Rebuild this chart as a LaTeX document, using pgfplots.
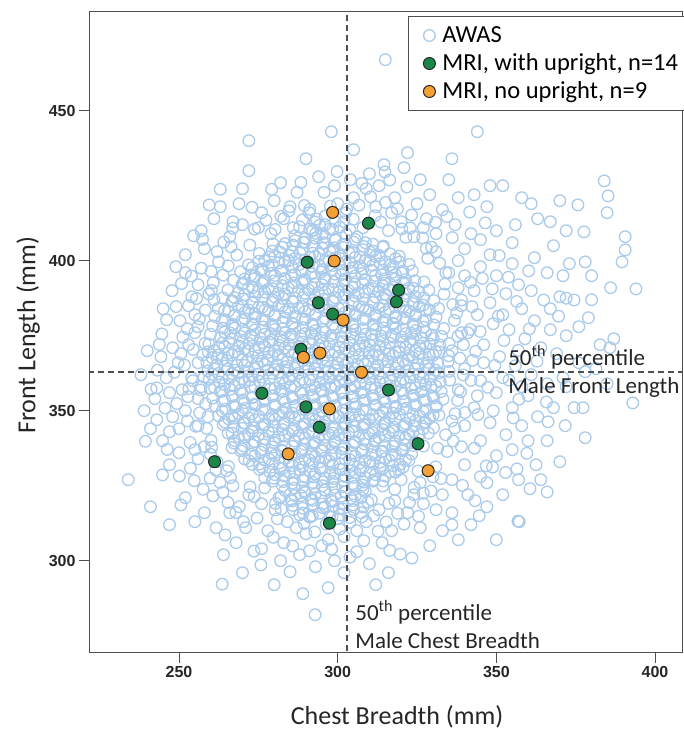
\documentclass[border=0pt]{standalone}
\usepackage{pgfplots}
\pgfplotsset{compat=1.18}
\usepackage{fontspec}
\setmainfont{Carlito}
\newfontfamily\arialfont{Liberation Sans}
\definecolor{awas}{RGB}{170,203,235}
\definecolor{mrigreen}{RGB}{26,135,72}
\definecolor{mriorange}{RGB}{245,160,50}
\definecolor{axgray}{RGB}{80,80,80}
\begin{document}
\begin{tikzpicture}
\useasboundingbox (-90pt,-79pt) rectangle (593pt,652pt);
\begin{axis}[
  scale only axis, width=592pt, height=640pt,
  xmin=221.95, xmax=408.5, ymin=269.57, ymax=482.9,
  xtick={250,300,350,400}, ytick={300,350,400,450},
  xtick pos=bottom, ytick pos=left,
  tick align=outside, major tick length=11pt,
  tick style={axgray, line width=1pt},
  axis line style={axgray, line width=1pt},
  /pgf/number format/assume math mode=true,
  tick label style={font=\arialfont\bfseries\fontsize{16}{18}\selectfont, text=black!85},
  xlabel={Chest Breadth (mm)}, ylabel={Front Length (mm)},
  label style={font=\fontsize{26}{30}\selectfont, text=black!85},
  xlabel style={at={(axis description cs:0.5186,-0.1016)}, anchor=center},
  ylabel style={at={(axis description cs:-0.1047,0.495)}, anchor=center},
  clip mode=individual,
  legend style={at={(axis description cs:0.537,0.99375)}, anchor=north west,
    draw=axgray, line width=1pt, fill=white, inner xsep=8pt, inner ysep=5pt,
    row sep=0pt, font=\fontsize{24.5}{28}\selectfont,
    nodes={text height=19pt, text depth=5pt, inner sep=2pt}},
  legend cell align=left,
  legend image code/.code={\path[draw=none] (0pt,0pt) -- (24pt,0pt); \draw[#1] plot coordinates {(13pt,0pt)};},
]
\addplot[only marks, mark=o, mark size=5.8pt, mark options={draw=awas, line width=1.3pt}] coordinates {
(286.5,408.3)(289.8,407.4)(293.1,409.1)(296.0,408.0)(299.4,407.2)(302.7,408.8)(306.1,407.9)
(279.6,405.6)(282.5,404.5)(285.9,405.2)(289.2,406.1)(292.0,404.8)(295.4,405.9)(298.7,404.3)(301.6,405.4)(305.0,406.2)(308.3,404.7)(311.1,405.5)(314.4,404.9)
(275.3,402.4)(278.4,401.3)(281.8,402.9)(284.7,401.8)(288.1,402.6)(291.3,401.1)(294.2,402.2)(297.6,403.0)(300.8,401.6)(303.7,402.5)(307.0,401.2)(310.3,402.8)(313.2,401.7)(316.5,402.3)(319.4,401.5)
(271.9,398.6)(275.1,399.8)(278.2,398.2)(281.5,399.3)(284.6,400.0)(287.8,398.7)(290.9,399.5)(294.3,398.1)(297.3,399.9)(300.6,398.9)(303.8,399.4)(306.9,398.3)(310.1,400.1)(313.4,399.0)(316.4,398.5)(319.6,399.6)(322.5,398.8)
(269.4,396.3)(272.6,395.2)(275.8,396.9)(278.9,395.8)(282.1,396.5)(285.4,395.1)(288.5,396.7)(291.7,395.6)(294.8,396.2)(298.1,397.0)(301.2,395.4)(304.4,396.4)(307.6,395.7)(310.7,396.8)(313.9,395.3)(317.1,396.1)(320.2,395.9)(323.5,396.6)
(267.2,393.5)(270.3,392.4)(273.6,393.9)(276.7,392.8)(279.9,393.2)(283.1,394.0)(286.2,392.6)(289.4,393.6)(292.6,392.3)(295.8,393.8)(298.9,392.9)(302.1,393.4)(305.3,392.2)(308.5,393.7)(311.6,393.1)(314.8,392.5)(318.0,393.9)(321.1,392.7)(324.3,393.3)(327.2,392.9)
(265.4,390.2)(268.6,389.3)(271.8,390.8)(274.9,389.7)(278.1,390.5)(281.3,389.1)(284.4,390.9)(287.6,389.8)(290.8,390.3)(293.9,389.4)(297.1,390.7)(300.3,389.6)(303.4,390.1)(306.6,389.2)(309.8,390.6)(312.9,389.9)(316.1,390.4)(319.3,389.5)(322.4,390.8)(325.6,389.7)(328.7,390.2)
(263.8,387.6)(267.0,386.5)(270.1,387.2)(273.3,386.1)(276.5,387.9)(279.6,386.8)(282.8,387.4)(286.0,386.3)(289.1,387.7)(292.3,386.9)(295.5,387.1)(298.6,386.4)(301.8,387.8)(305.0,386.6)(308.1,387.3)(311.3,386.2)(314.5,387.5)(317.6,386.9)(320.8,387.0)(324.0,386.4)(327.1,387.6)(330.3,386.7)
(262.4,384.1)(265.6,383.2)(268.7,384.7)(271.9,383.6)(275.1,384.4)(278.2,383.1)(281.4,384.9)(284.6,383.8)(287.7,384.2)(290.9,383.4)(294.1,384.6)(297.2,383.7)(300.4,384.0)(303.6,383.3)(306.7,384.8)(309.9,383.5)(313.1,384.3)(316.2,383.9)(319.4,384.5)(322.6,383.2)(325.7,384.7)(328.9,383.6)(331.8,384.1)
(261.3,381.4)(264.5,380.3)(267.6,381.8)(270.8,380.7)(274.0,381.2)(277.1,380.1)(280.3,381.6)(283.5,380.9)(286.6,381.3)(289.8,380.5)(293.0,381.9)(296.1,380.8)(299.3,381.1)(302.5,380.4)(305.6,381.7)(308.8,380.6)(312.0,381.5)(315.1,380.2)(318.3,381.0)(321.5,380.8)(324.6,381.6)(327.8,380.3)(331.0,381.2)
(260.6,378.3)(263.8,377.5)(266.9,378.8)(270.1,377.2)(273.3,378.6)(276.4,377.9)(279.6,378.1)(282.8,377.4)(285.9,378.9)(289.1,377.7)(292.3,378.4)(295.4,377.1)(298.6,378.7)(301.8,377.8)(304.9,378.2)(308.1,377.3)(311.3,378.5)(314.4,377.6)(317.6,378.9)(320.8,377.2)(323.9,378.3)(327.1,377.8)(330.3,378.6)(333.4,377.4)
(259.9,375.5)(263.1,374.4)(266.2,375.9)(269.4,374.8)(272.6,375.2)(275.7,374.1)(278.9,375.7)(282.1,374.6)(285.2,375.3)(288.4,374.9)(291.6,375.8)(294.7,374.3)(297.9,375.1)(301.1,374.7)(304.2,375.6)(307.4,374.2)(310.6,375.4)(313.7,374.9)(316.9,375.0)(320.1,374.5)(323.2,375.8)(326.4,374.3)(329.6,375.2)(332.7,374.8)
(259.4,372.2)(262.6,371.3)(265.7,372.8)(268.9,371.6)(272.1,372.4)(275.2,371.1)(278.4,372.9)(281.6,371.8)(284.7,372.1)(287.9,371.4)(291.1,372.6)(294.2,371.9)(297.4,372.3)(300.6,371.2)(303.7,372.7)(306.9,371.5)(310.1,372.0)(313.2,371.7)(316.4,372.5)(319.6,371.3)(322.7,372.8)(325.9,371.6)(329.1,372.2)(332.2,371.9)(335.1,372.4)
(259.2,369.6)(262.3,368.5)(265.5,369.2)(268.7,368.8)(271.8,369.9)(275.0,368.3)(278.2,369.4)(281.3,368.7)(284.5,369.7)(287.7,368.4)(290.8,369.1)(294.0,368.9)(297.2,369.5)(300.3,368.2)(303.5,369.8)(306.7,368.6)(309.8,369.3)(313.0,368.5)(316.2,369.0)(319.3,369.7)(322.5,368.4)(325.7,369.2)(328.8,368.8)(332.0,369.6)(335.0,368.3)
(258.8,366.1)(262.0,365.4)(265.1,366.7)(268.3,365.2)(271.5,366.4)(274.6,365.8)(277.8,366.9)(281.0,365.3)(284.1,366.2)(287.3,365.6)(290.5,366.8)(293.6,365.1)(296.8,366.5)(300.0,365.9)(303.1,366.0)(306.3,365.5)(309.5,366.6)(312.6,365.2)(315.8,366.3)(319.0,365.7)(322.1,366.9)(325.3,365.4)(328.5,366.1)(331.6,365.8)(334.8,366.4)
(259.1,363.3)(262.4,362.4)(265.4,363.8)(268.6,362.7)(271.9,363.1)(274.9,362.2)(278.1,363.6)(281.4,362.9)(284.4,363.4)(287.6,362.5)(290.9,363.9)(293.9,362.6)(297.1,363.2)(300.4,362.1)(303.4,363.7)(306.6,362.8)(309.9,363.0)(312.9,362.4)(316.1,363.5)(319.4,362.9)(322.4,363.3)(325.6,362.2)(328.9,363.8)(331.9,362.6)(335.1,363.1)
(259.5,360.4)(262.7,359.6)(265.8,360.9)(269.0,359.3)(272.2,360.2)(275.3,359.8)(278.5,360.7)(281.7,359.1)(284.8,360.5)(288.0,359.9)(291.2,360.1)(294.3,359.4)(297.5,360.8)(300.7,359.7)(303.8,360.3)(307.0,359.2)(310.2,360.6)(313.3,359.5)(316.5,360.0)(319.7,359.8)(322.8,360.9)(326.0,359.3)(329.2,360.4)(332.3,359.6)(335.3,360.2)
(259.8,357.5)(263.0,356.4)(266.1,357.1)(269.3,356.8)(272.5,357.9)(275.6,356.3)(278.8,357.4)(282.0,356.7)(285.1,357.8)(288.3,356.2)(291.5,357.0)(294.6,356.9)(297.8,357.6)(301.0,356.5)(304.1,357.3)(307.3,356.1)(310.5,357.7)(313.6,356.6)(316.8,357.2)(320.0,356.9)(323.1,357.5)(326.3,356.3)(329.5,357.8)(332.6,356.4)
(260.6,354.2)(263.7,353.3)(266.9,354.7)(270.1,353.6)(273.2,354.4)(276.4,353.1)(279.6,354.9)(282.7,353.8)(285.9,354.0)(289.1,353.5)(292.2,354.6)(295.4,353.2)(298.6,354.3)(301.7,353.9)(304.9,354.8)(308.1,353.4)(311.2,354.1)(314.4,353.7)(317.6,354.5)(320.7,353.2)(323.9,354.9)(327.1,353.6)(330.2,354.3)(333.2,353.8)
(261.4,351.6)(264.6,350.5)(267.7,351.2)(270.9,350.8)(274.1,351.9)(277.2,350.3)(280.4,351.4)(283.6,350.7)(286.7,351.7)(289.9,350.2)(293.1,351.0)(296.2,350.9)(299.4,351.5)(302.6,350.4)(305.7,351.3)(308.9,350.1)(312.1,351.8)(315.2,350.6)(318.4,351.1)(321.6,350.8)(324.7,351.6)(327.9,350.3)(331.1,351.3)
(262.5,348.3)(265.7,347.2)(268.8,348.8)(272.0,347.6)(275.2,348.1)(278.3,347.4)(281.5,348.6)(284.7,347.9)(287.8,348.2)(291.0,347.3)(294.2,348.7)(297.3,347.5)(300.5,348.0)(303.7,347.8)(306.8,348.5)(310.0,347.1)(313.2,348.4)(316.3,347.7)(319.5,348.9)(322.7,347.3)(325.8,348.2)(329.0,347.6)(331.9,348.5)
(263.9,345.4)(267.1,344.6)(270.2,345.9)(273.4,344.3)(276.6,345.2)(279.7,344.8)(282.9,345.7)(286.1,344.1)(289.2,345.5)(292.4,344.9)(295.6,345.1)(298.7,344.4)(301.9,345.8)(305.1,344.7)(308.2,345.3)(311.4,344.2)(314.6,345.6)(317.7,344.5)(320.9,345.0)(324.1,344.8)(327.2,345.9)(330.2,344.3)
(265.5,342.5)(268.7,341.4)(271.9,342.1)(275.0,341.8)(278.2,342.9)(281.4,341.3)(284.5,342.4)(287.7,341.7)(290.9,342.8)(294.0,341.2)(297.2,342.0)(300.4,341.9)(303.5,342.6)(306.7,341.5)(309.9,342.3)(313.0,341.1)(316.2,342.7)(319.4,341.6)(322.5,342.2)(325.7,341.9)(328.6,342.5)
(267.3,339.2)(270.4,338.3)(273.6,339.7)(276.8,338.6)(279.9,339.4)(283.1,338.1)(286.3,339.9)(289.4,338.8)(292.6,339.0)(295.8,338.5)(298.9,339.6)(302.1,338.2)(305.3,339.3)(308.4,338.9)(311.6,339.8)(314.8,338.4)(317.9,339.1)(321.1,338.7)(324.3,339.5)(327.0,338.2)
(269.5,336.6)(272.7,335.5)(275.8,336.2)(279.0,335.8)(282.2,336.9)(285.3,335.3)(288.5,336.4)(291.7,335.7)(294.8,336.8)(298.0,335.2)(301.2,336.0)(304.3,335.9)(307.5,336.5)(310.7,335.4)(313.8,336.3)(317.0,335.1)(320.2,336.7)(323.3,335.6)
(272.1,333.3)(275.3,332.2)(278.4,333.8)(281.6,332.6)(284.8,333.1)(287.9,332.4)(291.1,333.6)(294.3,332.9)(297.4,333.2)(300.6,332.3)(303.8,333.7)(306.9,332.5)(310.1,333.0)(313.3,332.8)(316.4,333.5)(319.6,332.1)(322.4,333.4)
(275.4,330.4)(278.6,329.6)(281.7,330.9)(284.9,329.3)(288.1,330.2)(291.2,329.8)(294.4,330.7)(297.6,329.1)(300.7,330.5)(303.9,329.9)(307.1,330.1)(310.2,329.4)(313.4,330.8)(316.6,329.7)(319.2,330.3)
(279.7,327.5)(282.9,326.4)(286.0,327.1)(289.2,326.8)(292.4,327.9)(295.5,326.3)(298.7,327.4)(301.9,326.7)(305.0,327.8)(308.2,326.2)(311.4,327.0)(314.3,326.6)
(286.3,324.2)(289.5,323.3)(292.6,324.7)(295.8,323.6)(299.0,324.4)(302.1,323.1)(305.4,324.8)(307.9,323.7)
(292.1,410.1)(295.2,409.0)(298.4,410.4)
(283.4,405.7)(286.5,406.7)(289.7,406.2)(292.9,407.5)(296.0,405.9)(299.2,406.9)(302.4,405.5)(305.5,407.1)(308.7,406.0)
(279.4,403.2)(282.6,404.5)(285.7,402.9)(288.9,403.9)(292.1,402.5)(295.2,404.1)(298.4,403.0)(301.6,404.4)(304.7,402.7)(307.9,403.7)(311.1,403.2)(314.2,404.5)
(277.0,400.0)(280.2,401.4)(283.4,399.7)(286.5,400.7)(289.7,400.2)(292.9,401.5)(296.0,399.9)(299.2,400.9)(302.4,399.5)(305.5,401.1)(308.7,400.0)(311.9,401.4)(315.0,399.7)(318.2,400.7)
(273.1,397.7)(276.2,397.2)(279.4,398.5)(282.6,396.9)(285.7,397.9)(288.9,396.5)(292.1,398.1)(295.2,397.0)(298.4,398.4)(301.6,396.7)(304.7,397.7)(307.9,397.2)(311.1,398.5)(314.2,396.9)(317.4,397.9)(320.6,396.5)
(270.7,393.9)(273.9,394.9)(277.0,393.5)(280.2,395.1)(283.4,394.0)(286.5,395.4)(289.7,393.7)(292.9,394.7)(296.0,394.2)(299.2,395.5)(302.4,393.9)(305.5,394.9)(308.7,393.5)(311.9,395.1)(315.0,394.0)(318.2,395.4)(321.4,393.7)
(269.9,392.1)(273.1,391.0)(276.2,392.4)(279.4,390.7)(282.6,391.7)(285.7,391.2)(288.9,392.5)(292.1,390.9)(295.2,391.9)(298.4,390.5)(301.6,392.1)(304.7,391.0)(307.9,392.4)(311.1,390.7)(314.2,391.7)(317.4,391.2)(320.6,392.5)(323.7,390.9)
(267.5,387.7)(270.7,388.7)(273.9,388.2)(277.0,389.5)(280.2,387.9)(283.4,388.9)(286.5,387.5)(289.7,389.1)(292.9,388.0)(296.0,389.4)(299.2,387.7)(302.4,388.7)(305.5,388.2)(308.7,389.5)(311.9,387.9)(315.0,388.9)(318.2,387.5)(321.4,389.1)(324.5,388.0)
(266.7,386.5)(269.9,384.9)(273.1,385.9)(276.2,384.5)(279.4,386.1)(282.6,385.0)(285.7,386.4)(288.9,384.7)(292.1,385.7)(295.2,385.2)(298.4,386.5)(301.6,384.9)(304.7,385.9)(307.9,384.5)(311.1,386.1)(314.2,385.0)(317.4,386.4)(320.6,384.7)(323.7,385.7)(326.9,385.2)
(264.4,383.4)(267.5,381.7)(270.7,382.7)(273.9,382.2)(277.0,383.5)(280.2,381.9)(283.4,382.9)(286.5,381.5)(289.7,383.1)(292.9,382.0)(296.0,383.4)(299.2,381.7)(302.4,382.7)(305.5,382.2)(308.7,383.5)(311.9,381.9)(315.0,382.9)(318.2,381.5)(321.4,383.1)(324.5,382.0)(327.7,383.4)
(263.6,379.9)(266.7,378.5)(269.9,380.1)(273.1,379.0)(276.2,380.4)(279.4,378.7)(282.6,379.7)(285.7,379.2)(288.9,380.5)(292.1,378.9)(295.2,379.9)(298.4,378.5)(301.6,380.1)(304.7,379.0)(307.9,380.4)(311.1,378.7)(314.2,379.7)(317.4,379.2)(320.6,380.5)(323.7,378.9)(326.9,379.9)
(264.4,376.2)(267.5,377.5)(270.7,375.9)(273.9,376.9)(277.0,375.5)(280.2,377.1)(283.4,376.0)(286.5,377.4)(289.7,375.7)(292.9,376.7)(296.0,376.2)(299.2,377.5)(302.4,375.9)(305.5,376.9)(308.7,375.5)(311.9,377.1)(315.0,376.0)(318.2,377.4)(321.4,375.7)(324.5,376.7)(327.7,376.2)
(263.6,372.5)(266.7,374.1)(269.9,373.0)(273.1,374.4)(276.2,372.7)(279.4,373.7)(282.6,373.2)(285.7,374.5)(288.9,372.9)(292.1,373.9)(295.2,372.5)(298.4,374.1)(301.6,373.0)(304.7,374.4)(307.9,372.7)(311.1,373.7)(314.2,373.2)(317.4,374.5)(320.6,372.9)(323.7,373.9)(326.9,372.5)(330.1,374.1)
(261.2,370.0)(264.4,371.4)(267.5,369.7)(270.7,370.7)(273.9,370.2)(277.0,371.5)(280.2,369.9)(283.4,370.9)(286.5,369.5)(289.7,371.1)(292.9,370.0)(296.0,371.4)(299.2,369.7)(302.4,370.7)(305.5,370.2)(308.7,371.5)(311.9,369.9)(315.0,370.9)(318.2,369.5)(321.4,371.1)(324.5,370.0)(327.7,371.4)(330.9,369.7)
(260.4,367.7)(263.6,367.2)(266.7,368.5)(269.9,366.9)(273.1,367.9)(276.2,366.5)(279.4,368.1)(282.6,367.0)(285.7,368.4)(288.9,366.7)(292.1,367.7)(295.2,367.2)(298.4,368.5)(301.6,366.9)(304.7,367.9)(307.9,366.5)(311.1,368.1)(314.2,367.0)(317.4,368.4)(320.6,366.7)(323.7,367.7)(326.9,367.2)(330.1,368.5)
(261.2,363.9)(264.4,364.9)(267.5,363.5)(270.7,365.1)(273.9,364.0)(277.0,365.4)(280.2,363.7)(283.4,364.7)(286.5,364.2)(289.7,365.5)(292.9,363.9)(296.0,364.9)(299.2,363.5)(302.4,365.1)(305.5,364.0)(308.7,365.4)(311.9,363.7)(315.0,364.7)(318.2,364.2)(321.4,365.5)(324.5,363.9)(327.7,364.9)(330.9,363.5)
(260.4,362.1)(263.6,361.0)(266.7,362.4)(269.9,360.7)(273.1,361.7)(276.2,361.2)(279.4,362.5)(282.6,360.9)(285.7,361.9)(288.9,360.5)(292.1,362.1)(295.2,361.0)(298.4,362.4)(301.6,360.7)(304.7,361.7)(307.9,361.2)(311.1,362.5)(314.2,360.9)(317.4,361.9)(320.6,360.5)(323.7,362.1)(326.9,361.0)(330.1,362.4)
(261.2,357.7)(264.4,358.7)(267.5,358.2)(270.7,359.5)(273.9,357.9)(277.0,358.9)(280.2,357.5)(283.4,359.1)(286.5,358.0)(289.7,359.4)(292.9,357.7)(296.0,358.7)(299.2,358.2)(302.4,359.5)(305.5,357.9)(308.7,358.9)(311.9,357.5)(315.0,359.1)(318.2,358.0)(321.4,359.4)(324.5,357.7)(327.7,358.7)(330.9,358.2)
(263.6,356.5)(266.7,354.9)(269.9,355.9)(273.1,354.5)(276.2,356.1)(279.4,355.0)(282.6,356.4)(285.7,354.7)(288.9,355.7)(292.1,355.2)(295.2,356.5)(298.4,354.9)(301.6,355.9)(304.7,354.5)(307.9,356.1)(311.1,355.0)(314.2,356.4)(317.4,354.7)(320.6,355.7)(323.7,355.2)(326.9,356.5)(330.1,354.9)
(264.4,353.4)(267.5,351.7)(270.7,352.7)(273.9,352.2)(277.0,353.5)(280.2,351.9)(283.4,352.9)(286.5,351.5)(289.7,353.1)(292.9,352.0)(296.0,353.4)(299.2,351.7)(302.4,352.7)(305.5,352.2)(308.7,353.5)(311.9,351.9)(315.0,352.9)(318.2,351.5)(321.4,353.1)(324.5,352.0)(327.7,353.4)(330.9,351.7)
(263.6,349.9)(266.7,348.5)(269.9,350.1)(273.1,349.0)(276.2,350.4)(279.4,348.7)(282.6,349.7)(285.7,349.2)(288.9,350.5)(292.1,348.9)(295.2,349.9)(298.4,348.5)(301.6,350.1)(304.7,349.0)(307.9,350.4)(311.1,348.7)(314.2,349.7)(317.4,349.2)(320.6,350.5)(323.7,348.9)(326.9,349.9)(330.1,348.5)
(264.4,346.2)(267.5,347.5)(270.7,345.9)(273.9,346.9)(277.0,345.5)(280.2,347.1)(283.4,346.0)(286.5,347.4)(289.7,345.7)(292.9,346.7)(296.0,346.2)(299.2,347.5)(302.4,345.9)(305.5,346.9)(308.7,345.5)(311.9,347.1)(315.0,346.0)(318.2,347.4)(321.4,345.7)(324.5,346.7)(327.7,346.2)
(266.7,342.5)(269.9,344.1)(273.1,343.0)(276.2,344.4)(279.4,342.7)(282.6,343.7)(285.7,343.2)(288.9,344.5)(292.1,342.9)(295.2,343.9)(298.4,342.5)(301.6,344.1)(304.7,343.0)(307.9,344.4)(311.1,342.7)(314.2,343.7)(317.4,343.2)(320.6,344.5)(323.7,342.9)(326.9,343.9)
(267.5,340.0)(270.7,341.4)(273.9,339.7)(277.0,340.7)(280.2,340.2)(283.4,341.5)(286.5,339.9)(289.7,340.9)(292.9,339.5)(296.0,341.1)(299.2,340.0)(302.4,341.4)(305.5,339.7)(308.7,340.7)(311.9,340.2)(315.0,341.5)(318.2,339.9)(321.4,340.9)(324.5,339.5)
(266.7,337.7)(269.9,337.2)(273.1,338.5)(276.2,336.9)(279.4,337.9)(282.6,336.5)(285.7,338.1)(288.9,337.0)(292.1,338.4)(295.2,336.7)(298.4,337.7)(301.6,337.2)(304.7,338.5)(307.9,336.9)(311.1,337.9)(314.2,336.5)(317.4,338.1)(320.6,337.0)(323.7,338.4)
(270.7,333.9)(273.9,334.9)(277.0,333.5)(280.2,335.1)(283.4,334.0)(286.5,335.4)(289.7,333.7)(292.9,334.7)(296.0,334.2)(299.2,335.5)(302.4,333.9)(305.5,334.9)(308.7,333.5)(311.9,335.1)(315.0,334.0)(318.2,335.4)(321.4,333.7)
(273.1,332.1)(276.2,331.0)(279.4,332.4)(282.6,330.7)(285.7,331.7)(288.9,331.2)(292.1,332.5)(295.2,330.9)(298.4,331.9)(301.6,330.5)(304.7,332.1)(307.9,331.0)(311.1,332.4)(314.2,330.7)(317.4,331.7)(320.6,331.2)
(277.0,327.7)(280.2,328.7)(283.4,328.2)(286.5,329.5)(289.7,327.9)(292.9,328.9)(296.0,327.5)(299.2,329.1)(302.4,328.0)(305.5,329.4)(308.7,327.7)(311.9,328.7)(315.0,328.2)(318.2,329.5)
(279.4,326.5)(282.6,324.9)(285.7,325.9)(288.9,324.5)(292.1,326.1)(295.2,325.0)(298.4,326.4)(301.6,324.7)(304.7,325.7)(307.9,325.2)(311.1,326.5)(314.2,324.9)
(283.4,323.4)(286.5,321.7)(289.7,322.7)(292.9,322.2)(296.0,323.5)(299.2,321.9)(302.4,322.9)(305.5,321.5)(308.7,323.1)
(282.1,321.3)(285.3,320.4)(288.4,321.7)(291.6,320.6)(294.7,321.2)(297.9,320.1)(301.1,321.5)(304.2,320.8)(307.4,321.0)(310.6,320.3)
(285.8,318.4)(289.0,317.5)(292.1,318.8)(295.3,317.7)(298.5,318.2)(301.6,317.3)(304.8,318.6)(308.0,317.9)
(285.7,319.9)(288.9,319.0)(292.1,320.1)(295.2,318.9)(298.4,319.7)(301.6,319.2)(304.7,320.0)
(288.0,315.3)(291.2,314.5)(294.3,315.8)(297.5,314.6)(300.7,315.2)(303.8,314.4)
(288.0,411.3)(291.2,410.5)(294.3,411.8)(297.5,410.6)(300.7,411.2)(303.8,410.4)(292.9,412.9)(296.0,412.0)(299.2,413.1)
(342.5,366.8)(339.6,372.0)(341.8,377.1)(337.5,382.6)(339.0,386.9)(333.8,392.2)(334.1,396.0)(328.4,400.8)(327.9,404.1)(321.5,407.8)(320.2,410.6)(313.6,412.9)(311.8,415.0)(304.9,413.8)(302.8,417.2)(296.1,414.9)(291.2,417.1)(288.9,413.6)(282.1,414.8)(280.3,410.4)(273.8,410.5)(272.3,405.2)(266.4,404.6)(265.5,398.3)(260.1,396.4)(260.2,390.1)(255.5,387.4)(256.4,380.6)(252.6,377.3)(254.5,370.4)(251.7,365.2)(254.3,360.0)(252.8,354.7)(256.5,349.3)(255.3,344.8)(260.1,340.1)(259.9,335.5)(265.6,331.4)(266.2,327.7)(272.4,324.6)(273.7,321.4)(280.4,319.1)(282.2,317.2)(289.1,315.9)(291.3,314.8)(298.2,314.6)(300.5,317.3)(307.4,316.0)(309.5,319.5)(316.1,319.1)(318.0,323.8)(324.1,324.4)(325.3,329.9)(330.9,331.3)(331.5,337.5)(336.4,339.9)(336.0,346.6)(340.1,349.4)(338.7,356.3)(342.0,360.1)
(257.0,397.5)(247.8,390.0)(261.0,387.0)(250.3,380.0)(244.6,375.6)(250.6,369.0)(244.3,368.0)(249.7,366.0)(243.0,357.6)(247.0,356.0)(242.4,354.0)(247.0,343.0)(244.8,340.0)(244.8,328.6)(253.6,330.8)(252.0,321.0)(250.6,318.6)(259.8,327.5)(260.7,321.6)(261.7,311.0)(264.5,308.6)(263.6,292.2)(253.0,385.0)(255.0,376.0)(254.0,361.0)(252.0,350.0)(256.0,345.0)(250.0,336.0)(255.0,337.0)(248.0,348.0)(238.0,362.0)(246.0,361.0)(251.0,357.0)(256.0,354.0)(256.0,392.0)(252.0,402.0)(258.0,404.0)(262.0,403.0)(257.0,410.0)(261.0,414.0)(267.0,413.0)(263.0,418.0)(266.0,408.0)(270.0,412.0)(252.0,396.0)(248.0,371.0)(253.0,372.0)(256.0,366.0)(255.0,382.0)(239.0,350.0)(243.0,347.0)(250.0,344.0)(256.0,334.0)(258.0,316.0)(255.0,313.0)(266.0,316.0)(264.0,302.0)(268.0,306.0)(271.0,311.0)(269.0,318.0)(262.0,333.0)(258.0,338.0)(247.0,332.0)(241.0,344.0)(257.0,358.0)(256.0,378.0)(254.0,388.0)(234.0,327.0)(241.0,318.0)(247.0,312.0)(245.0,384.0)(240.0,370.0)(249.0,398.0)
(258.2,372.4)(257.5,368.6)(257.9,361.2)(256.8,356.9)(258.4,352.3)(259.1,348.0)(258.7,344.1)(260.3,337.8)(261.6,330.2)(262.9,326.1)(263.8,322.8)(265.4,319.4)(267.9,316.1)(258.3,383.5)(259.4,388.9)(260.8,392.7)(262.5,399.6)(264.1,406.2)(266.9,410.8)(268.2,401.9)(263.9,395.2)(251.2,374.5)(248.5,362.8)(252.7,346.6)(249.3,352.4)(253.5,339.4)(254.8,326.7)(257.6,323.8)(250.1,328.2)(246.3,337.1)(245.6,350.9)(243.2,363.5)(246.1,380.3)(250.8,392.4)(254.6,408.3)(259.5,418.6)(257.4,407.1)(253.9,394.9)(243.8,372.1)(241.2,357.2)(239.4,339.8)(249.1,384.7)(253.1,357.4)
(272.0,430.0)(263.0,423.8)(268.9,419.0)(287.2,422.8)(295.7,422.8)(314.6,432.0)(314.9,429.6)(320.9,431.0)(321.8,424.6)(325.0,419.0)(280.0,420.0)(276.0,416.0)(283.0,414.0)(291.0,416.0)(300.0,419.0)(305.0,421.0)(309.0,424.0)(312.0,418.0)(317.0,416.0)(328.0,414.0)(333.0,417.0)(338.0,421.0)(343.0,422.0)(347.0,418.0)(337.0,412.0)(331.0,409.0)(327.0,411.0)(275.0,411.0)(279.0,409.0)(286.0,411.0)(292.0,410.0)(302.0,413.0)(308.0,411.0)(316.0,410.0)(320.0,413.0)(324.0,408.0)(313.0,425.0)(304.0,427.0)(294.0,428.0)(282.0,426.0)(326.0,427.0)(335.0,427.0)(298.0,443.0)(344.0,443.0)(315.0,467.0)(352.0,425.0)(358.0,421.0)(363.0,414.0)(356.0,412.0)(350.0,410.0)(345.0,407.0)(340.0,404.0)(272.0,440.0)(290.0,434.0)(336.0,434.0)(305.0,437.0)(318.0,421.0)(329.0,422.0)(322.0,436.0)(310.0,429.0)(299.0,425.0)(285.0,418.0)(270.0,424.0)
(284.6,416.6)(289.5,418.4)(293.3,413.9)(297.7,418.2)(302.5,415.9)(306.7,418.5)(310.4,421.3)(315.1,419.4)(318.8,417.3)(323.3,415.2)(277.4,413.5)(273.0,417.8)(279.2,423.8)(288.4,426.1)(299.8,429.7)(307.6,425.8)(316.4,426.9)(330.8,412.8)(334.4,414.7)
(394.0,390.6)(384.0,426.6)(385.2,421.6)(384.9,416.0)(377.6,409.6)(375.7,418.6)(378.0,399.6)(390.6,403.6)(389.6,399.6)(390.6,408.0)(382.7,372.0)(385.8,371.0)(381.4,364.0)(384.9,359.0)(393.0,352.6)(374.5,351.0)(377.3,351.0)(371.7,345.0)(366.0,322.9)(360.6,324.0)(357.2,313.0)(356.5,330.6)(362.5,332.0)(374.5,386.9)(370.0,388.0)(372.0,387.5)(366.0,396.0)(362.0,401.0)(355.0,399.0)(350.0,395.0)(345.0,398.0)(340.0,395.0)(338.0,400.0)(343.0,390.0)(348.0,386.0)(353.0,389.0)(358.0,384.0)(362.0,380.0)(367.0,377.0)(372.0,375.0)(376.0,378.0)(379.0,381.0)(369.0,369.0)(364.0,371.0)(359.0,374.0)(354.0,377.0)(349.0,379.0)(344.0,382.0)(339.0,385.0)(341.0,376.0)(346.0,372.0)(351.0,368.0)(356.0,365.0)(361.0,362.0)(366.0,359.0)(371.0,361.0)(376.0,366.0)(360.0,355.0)(355.0,351.0)(350.0,356.0)(345.0,360.0)(340.0,364.0)(338.0,357.0)(343.0,351.0)(348.0,346.0)(353.0,342.0)(358.0,345.0)(363.0,348.0)(368.0,351.0)(340.0,345.0)(345.0,340.0)(350.0,335.0)(340.0,332.0)(345.0,328.0)(352.0,322.0)(347.0,318.0)(341.0,322.0)(336.0,316.0)(342.0,312.0)(350.0,307.0)(338.0,307.0)(333.0,322.0)(336.0,327.0)(339.0,338.0)(334.0,342.0)(337.0,349.0)(336.0,370.0)(339.0,376.0)(338.0,391.0)(335.0,396.0)(331.0,403.0)(342.0,409.0)(355.0,406.0)(368.0,405.0)(373.0,399.0)(367.0,413.0)(361.0,419.0)(372.0,410.0)(380.0,395.0)(372.0,358.0)(366.0,340.0)(378.0,341.0)(367.0,384.0)(352.0,382.0)(357.0,392.0)(348.0,402.0)(361.0,390.0)(346.0,366.0)(352.0,361.0)(358.0,358.0)(344.0,355.0)(349.0,350.0)(355.0,337.0)(360.0,340.0)(370.0,333.0)(364.0,327.0)(357.0,327.0)(380.0,387.0)(387.0,374.0)(370.0,420.0)(348.0,425.0)(386.0,391.0)(378.0,363.0)(371.0,395.0)
(336.8,380.1)(337.9,374.8)(338.5,367.5)(339.6,361.9)(337.8,353.4)(336.9,344.2)(334.5,336.4)(332.6,327.4)(329.4,323.2)(327.0,322.5)(333.5,388.9)(336.3,385.4)(332.1,399.2)(329.6,404.5)(326.8,407.6)(322.9,410.9)(343.5,369.8)(344.9,376.4)(342.3,384.7)(341.8,392.8)(345.6,394.1)(348.7,390.6)(350.6,381.5)(352.4,373.4)(349.5,365.1)(347.3,357.8)(344.2,348.7)(343.1,337.5)(346.8,331.6)(352.9,329.4)(355.3,347.6)(357.1,353.8)(354.0,360.2)(356.9,370.1)(360.4,377.3)(356.4,386.4)(353.8,394.5)(350.9,401.7)(346.5,412.6)(341.6,416.2)(336.1,407.7)(339.3,325.1)(344.6,315.0)(348.8,331.2)(362.8,366.5)(364.9,386.9)(360.2,396.6)(369.6,381.5)(365.8,352.9)(366.3,346.3)(359.6,335.8)
(273.6,303.2)(275.8,298.6)(285.0,296.3)(292.9,282.0)(320.9,312.2)(319.7,302.2)(323.4,300.9)(336.0,312.0)(343.3,320.0)(347.0,326.0)(356.8,313.2)(278.0,310.0)(283.0,306.0)(288.0,302.0)(290.0,309.0)(295.0,305.0)(299.0,300.0)(302.0,296.0)(306.0,303.0)(310.0,299.0)(314.0,306.0)(317.0,310.0)(322.0,316.0)(326.0,311.0)(329.0,305.0)(331.0,317.0)(327.0,319.0)(300.0,314.0)(296.0,318.0)(292.0,315.0)(286.0,317.0)(281.0,314.0)(276.0,319.0)(272.0,322.0)(305.0,317.0)(309.0,313.0)(313.0,317.0)(318.0,320.0)(324.0,322.0)(312.0,292.0)(297.0,291.0)(289.0,289.0)(306.0,310.0)(302.0,308.0)(293.0,298.0)(280.0,292.0)(270.0,296.0)(267.0,325.0)(265.0,330.0)(320.0,327.0)(326.0,326.0)(330.0,328.0)(282.0,300.0)(316.0,296.0)(333.0,310.0)(276.0,304.0)(287.0,311.0)(297.0,307.0)
(280.3,316.9)(284.1,313.0)(289.4,312.4)(292.8,309.6)(296.4,312.2)(300.6,310.5)(303.8,312.8)(307.6,314.6)(311.4,315.0)(315.3,312.9)(318.9,315.8)(322.6,319.4)(325.5,314.8)(279.7,307.8)(285.8,304.9)(291.1,303.3)(298.1,303.9)(303.9,301.2)(308.2,306.7)(312.7,309.8)(316.4,303.4)(274.6,314.2)(270.3,313.0)(277.0,324.3)(281.5,321.0)
};
\addlegendentry{AWAS}
\addplot[forget plot, axgray, line width=1.5pt, dash pattern=on 6pt off 4pt] coordinates {(303.0,260) (303.0,490)};
\addplot[forget plot, axgray, line width=1.5pt, dash pattern=on 6pt off 4pt] coordinates {(215,362.9) (415,362.9)};
\addplot[only marks, mark=*, mark size=6pt, mark options={fill=mrigreen, draw=black!85, line width=1pt}] coordinates {
(290.4,399.5)(309.7,412.5)(319.2,390.2)(318.5,386.3)(293.9,386.0)(288.4,370.5)(276.1,355.8)(290.0,351.3)(298.4,382.2)(316.0,356.9)(294.2,344.5)(261.2,333.0)(325.3,339.0)(297.4,312.5)
};
\addlegendentry{MRI, with upright, n=14}
\addplot[only marks, mark=*, mark size=6pt, mark options={fill=mriorange, draw=black!85, line width=1pt}] coordinates {
(298.4,416.1)(298.9,399.9)(289.2,367.8)(294.4,369.2)(301.7,380.2)(307.5,362.8)(297.4,350.6)(284.4,335.6)(328.5,330.0)
};
\addlegendentry{MRI, no upright, n=9}
\node[anchor=west, align=left, font=\fontsize{23}{28}\selectfont, text=black!85, inner sep=0pt] at (axis cs:353.7,363.2) {50\textsuperscript{th} percentile\\Male Front Length};
\node[anchor=west, align=left, font=\fontsize{23}{28}\selectfont, text=black!85, inner sep=0pt] at (axis cs:305.5,278.8) {50\textsuperscript{th} percentile\\Male Chest Breadth};
\end{axis}
\end{tikzpicture}
\end{document}
